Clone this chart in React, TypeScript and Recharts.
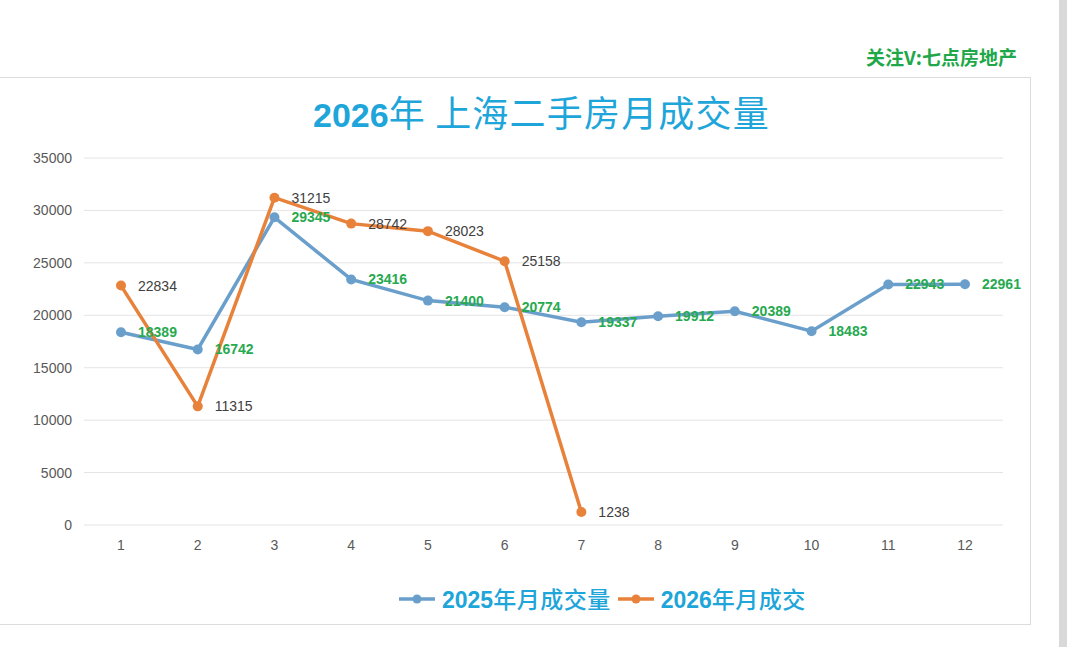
import React from 'react';
import { LineChart, Line, XAxis, YAxis, CartesianGrid, Legend, LabelList } from 'recharts';

const months = ['1', '2', '3', '4', '5', '6', '7', '8', '9', '10', '11', '12'];
const sales2025 = [18389, 16742, 29345, 23416, 21400, 20774, 19337, 19912, 20389, 18483, 22943, 22961];
const sales2026 = [22834, 11315, 31215, 28742, 28023, 25158, 1238];
const yTicks = [0, 5000, 10000, 15000, 20000, 25000, 30000, 35000];

const name2025 = '2025年月成交量';
const name2026 = '2026年月成交';
const title = '2026年 上海二手房月成交量';
const watermark = '关注V:七点房地产';

const BLUE = '#6a9fcc';
const ORANGE = '#e8823a';
const GREEN = '#27a94f';
const LABEL_GREY = '#404040';
const TICK_GREY = '#595959';
const TITLE_BLUE = '#1ea5d9';
const FONT = '"Liberation Sans", Arial, "Noto Sans CJK SC", sans-serif';

const data = months.map((m, i) => ({
  month: m,
  s2025: sales2025[i],
  s2026: i < sales2026.length ? sales2026[i] : null,
}));

const makeLabel = (color: string, weight: string | number) => (props: any) => {
  const { value } = props;
  if (value === null || value === undefined) return null;
  const vb = props.viewBox || {};
  const x = props.x ?? vb.x;
  const y = props.y ?? vb.y;
  if (x === undefined || y === undefined) return null;
  return (
    <text
      x={x + 17}
      y={y}
      dominantBaseline="central"
      textAnchor="start"
      fill={color}
      fontSize={14}
      fontWeight={weight}
      fontFamily={FONT}
    >
      {value}
    </text>
  );
};

const splitName = (s: string) => {
  const m = s.match(/^(\d+)(.*)$/);
  return m ? [m[1], m[2]] : ['', s];
};

const legendItems = [
  { name: name2025, color: BLUE },
  { name: name2026, color: ORANGE },
];

const LegendContent = () => (
  <div style={{ display: 'flex', alignItems: 'center', height: 40, fontFamily: FONT }}>
    {legendItems.map((it) => {
      const [num, rest] = splitName(it.name);
      return (
        <div key={it.name} style={{ display: 'flex', alignItems: 'center', marginRight: 6 }}>
          <svg width={38} height={12} style={{ marginRight: 6 }}>
            <line x1={1} y1={6} x2={37} y2={6} stroke={it.color} strokeWidth={3.5} />
            <circle cx={19} cy={6} r={4.5} fill={it.color} />
          </svg>
          <span style={{ color: TITLE_BLUE, fontSize: 23, lineHeight: '40px', whiteSpace: 'nowrap' }}>
            <span style={{ fontWeight: 'bold' }}>{num}</span>
            <span style={{ fontFamily: '"Noto Sans CJK SC", sans-serif', fontWeight: 500, letterSpacing: 0.5 }}>{rest}</span>
          </span>
        </div>
      );
    })}
  </div>
);

export default function App() {
  const [tNum, tRest] = splitName(title);
  return (
    <div style={{ position: 'absolute', left: 0, top: 0, width: 1080, height: 647, background: '#ffffff', overflow: 'hidden' }}>
      <div style={{ position: 'absolute', left: 1059, top: 0, width: 8, height: 647, background: '#d9d9d9' }} />
      <div
        style={{
          position: 'absolute',
          left: -1,
          top: 77,
          width: 1030,
          height: 546,
          border: '1px solid #dcdcdc',
          background: '#ffffff',
        }}
      />
      <div
        style={{
          position: 'absolute',
          right: 63,
          top: 47,
          fontSize: 19,
          lineHeight: '20px',
          fontWeight: 'bold',
          color: '#1fa84a',
          fontFamily: '"Noto Sans CJK SC", sans-serif',
          whiteSpace: 'nowrap',
        }}
      >
        {watermark}
      </div>
      <div
        style={{
          position: 'absolute',
          left: 0,
          width: 1083,
          top: 93,
          textAlign: 'center',
          color: TITLE_BLUE,
          lineHeight: '36px',
          whiteSpace: 'nowrap',
        }}
      >
        <span style={{ fontFamily: FONT, fontWeight: 'bold', fontSize: 34 }}>{tNum}</span>
        <span style={{ fontFamily: '"Noto Sans CJK SC", sans-serif', fontSize: 36, letterSpacing: 1.2 }}>{tRest}</span>
      </div>
      <div style={{ position: 'absolute', left: 0, top: 0 }}>
        <LineChart width={1080} height={647} data={data} margin={{ top: 158, right: 77, bottom: 28, left: 0 }}>
          <CartesianGrid vertical={false} stroke="#e4e4e4" strokeWidth={1} />
          <XAxis
            dataKey="month"
            height={54}
            padding={{ left: 37, right: 38 }}
            axisLine={false}
            tickLine={false}
            tickMargin={9}
            tick={{ fill: TICK_GREY, fontSize: 14, fontFamily: FONT }}
          />
          <YAxis
            width={84}
            domain={[0, 35000]}
            ticks={yTicks}
            axisLine={false}
            tickLine={false}
            tickMargin={6}
            tick={{ fill: TICK_GREY, fontSize: 14, fontFamily: FONT }}
          />
          <Legend
            verticalAlign="bottom"
            content={<LegendContent />}
            wrapperStyle={{ left: 398, width: 440, bottom: 28 }}
          />
          <Line
            dataKey="s2025"
            stroke="none"
            dot={false}
            activeDot={false}
            legendType="none"
            isAnimationActive={false}
          >
            <LabelList dataKey="s2025" content={makeLabel(GREEN, 'bold')} />
          </Line>
          <Line
            dataKey="s2026"
            stroke="none"
            dot={false}
            activeDot={false}
            legendType="none"
            isAnimationActive={false}
          >
            <LabelList dataKey="s2026" content={makeLabel(LABEL_GREY, 'normal')} />
          </Line>
          <Line
            name={name2025}
            dataKey="s2025"
            type="linear"
            stroke={BLUE}
            strokeWidth={3.5}
            dot={{ r: 5, fill: BLUE, stroke: BLUE, strokeWidth: 0 }}
            activeDot={false}
            isAnimationActive={false}
          />
          <Line
            name={name2026}
            dataKey="s2026"
            type="linear"
            stroke={ORANGE}
            strokeWidth={3.5}
            dot={{ r: 5, fill: ORANGE, stroke: ORANGE, strokeWidth: 0 }}
            activeDot={false}
            isAnimationActive={false}
          />
        </LineChart>
      </div>
    </div>
  );
}
